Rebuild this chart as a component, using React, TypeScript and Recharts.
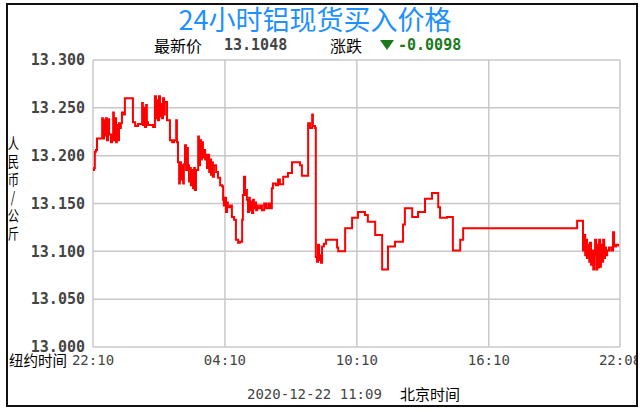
import { LineChart, Line, XAxis, YAxis, CartesianGrid } from "recharts";

// minutes after 22:10 (New York time) and the buy price in CNY/kg
const MINUTES = [
  0, 3, 5, 8, 11, 25, 27, 30, 33, 35, 38, 41, 44, 49, 52, 55, 57, 60, 63, 65,
  68, 71, 74, 76, 79, 82, 87, 109, 115, 123, 134, 136, 139, 142, 145, 147, 150, 164, 169, 172,
  175, 177, 180, 183, 186, 188, 191, 194, 196, 202, 210, 216, 221, 227, 229, 232, 235, 237, 240, 243,
  246, 248, 251, 254, 257, 259, 262, 265, 267, 270, 273, 276, 278, 281, 287, 289, 292, 295, 297, 300,
  303, 306, 308, 311, 314, 317, 319, 322, 325, 327, 330, 336, 341, 347, 352, 355, 357, 360, 363, 366,
  368, 374, 379, 385, 390, 396, 401, 407, 409, 412, 415, 418, 420, 423, 426, 428, 431, 434, 437, 439,
  442, 445, 448, 450, 456, 461, 467, 472, 478, 483, 488, 491, 499, 505, 510, 519, 532, 543, 565, 570,
  587, 592, 598, 600, 606, 608, 611, 614, 617, 619, 622, 625, 630, 636, 666, 669, 688, 707, 723, 742,
  750, 770, 789, 805, 824, 846, 851, 871, 887, 906, 925, 942, 947, 966, 982, 1002, 1010, 1321, 1337, 1340,
  1343, 1345, 1348, 1351, 1354, 1356, 1359, 1362, 1365, 1367, 1370, 1373, 1376, 1378, 1381, 1384, 1386, 1389, 1392, 1395,
  1397, 1400, 1403, 1408, 1414, 1419, 1422, 1427, 1433,
];

const PRICES = [
  13.185, 13.187, 13.204, 13.206, 13.218, 13.239, 13.218, 13.237, 13.221, 13.239, 13.216, 13.238, 13.222, 13.214, 13.222, 13.245, 13.216, 13.239, 13.214, 13.232,
  13.216, 13.234, 13.229, 13.234, 13.245, 13.243, 13.26, 13.235, 13.231, 13.233, 13.255, 13.232, 13.25, 13.23, 13.253, 13.235, 13.232, 13.23, 13.262, 13.239,
  13.258, 13.237, 13.262, 13.241, 13.254, 13.239, 13.26, 13.243, 13.256, 13.237, 13.216, 13.214, 13.216, 13.237, 13.214, 13.193, 13.171, 13.193, 13.175, 13.19,
  13.171, 13.191, 13.211, 13.185, 13.208, 13.19, 13.173, 13.187, 13.169, 13.185, 13.166, 13.187, 13.164, 13.185, 13.22, 13.19, 13.216, 13.196, 13.214, 13.198,
  13.206, 13.196, 13.201, 13.187, 13.201, 13.183, 13.196, 13.18, 13.193, 13.178, 13.19, 13.183, 13.177, 13.169, 13.168, 13.154, 13.148, 13.156, 13.141, 13.151,
  13.146, 13.148, 13.136, 13.133, 13.112, 13.109, 13.11, 13.133, 13.159, 13.178, 13.159, 13.164, 13.154, 13.141, 13.156, 13.143, 13.152, 13.14, 13.154, 13.145,
  13.151, 13.143, 13.148, 13.145, 13.148, 13.143, 13.15, 13.145, 13.15, 13.145, 13.166, 13.171, 13.169, 13.175, 13.17, 13.178, 13.182, 13.193, 13.19, 13.179,
  13.234, 13.229, 13.243, 13.231, 13.229, 13.094, 13.089, 13.107, 13.091, 13.096, 13.088, 13.105, 13.108, 13.112, 13.104, 13.1, 13.124, 13.135, 13.141, 13.138,
  13.131, 13.117, 13.081, 13.105, 13.11, 13.128, 13.145, 13.136, 13.141, 13.155, 13.161, 13.146, 13.135, 13.136, 13.101, 13.112, 13.124, 13.132, 13.101, 13.117,
  13.096, 13.112, 13.093, 13.107, 13.089, 13.109, 13.086, 13.101, 13.081, 13.096, 13.112, 13.081, 13.107, 13.083, 13.112, 13.084, 13.107, 13.089, 13.112, 13.093,
  13.104, 13.096, 13.101, 13.104, 13.101, 13.12, 13.105, 13.107, 13.105,
];

const X_TICKS = [0, 360, 720, 1080, 1438];
const X_TICK_LABELS = ["22:10", "04:10", "10:10", "16:10", "22:08"];
const Y_TICKS = [13.0, 13.05, 13.1, 13.15, 13.2, 13.25, 13.3];
const Y_LABEL = ["人", "民", "币", "/", "公", "斤"];

const TITLE = "24小时铝现货买入价格";
const LATEST = "13.1048";
const CHANGE = "-0.0098";
const UPDATED = "2020-12-22 11:09";

const data = MINUTES.map((t, i) => ({ t, price: PRICES[i] }));

const MONO = "'DejaVu Sans Mono', monospace";
const CJK = "'Noto Sans CJK SC', sans-serif";
const GREEN = "#1a7a1a";

const abs = (left: number, top: number): React.CSSProperties => ({
  position: "absolute",
  left,
  top,
  whiteSpace: "nowrap",
});

export default function App() {
  return (
    <div
      style={{
        position: "fixed",
        left: 0,
        top: 0,
        width: 644,
        height: 412,
        background: "#fff",
        overflow: "hidden",
      }}
    >
      <LineChart
        width={644}
        height={412}
        data={data}
        margin={{ top: 60, right: 24, bottom: 35, left: 0 }}
        style={{ position: "absolute", left: 0, top: 0 }}
      >
        <CartesianGrid stroke="#c8c8c8" strokeWidth={1.5} />
        <XAxis
          dataKey="t"
          type="number"
          domain={[0, 1438]}
          ticks={X_TICKS}
          interval={0}
          tickFormatter={(v) => X_TICK_LABELS[X_TICKS.indexOf(v)]}
          axisLine={false}
          tickLine={false}
          height={30}
          tick={{ fill: "#444", fontSize: 14, fontFamily: MONO }}
        />
        <YAxis
          type="number"
          domain={[13.0, 13.3]}
          ticks={Y_TICKS}
          interval={0}
          tickFormatter={(v) => v.toFixed(3)}
          axisLine={false}
          tickLine={false}
          width={93}
          tick={{ fill: "#444", fontSize: 15, fontWeight: "bold", fontFamily: MONO }}
        />
        <Line
          type="stepAfter"
          dataKey="price"
          stroke="#ff0000"
          strokeWidth={2}
          dot={false}
          isAnimationActive={false}
        />
      </LineChart>

      {/* title and header */}
      <div
        style={{
          ...abs(0, 5),
          width: 630,
          textAlign: "center",
          fontFamily: CJK,
          fontSize: 27,
          lineHeight: "28px",
          color: "#1e90ff",
        }}
      >
        {TITLE}
      </div>
      <div style={{ ...abs(154, 36), fontFamily: CJK, fontSize: 16, lineHeight: "18px", color: "#000" }}>
        最新价
      </div>
      <div
        style={{ ...abs(224, 36), fontFamily: MONO, fontWeight: "bold", fontSize: 15, lineHeight: "18px", color: "#444" }}
      >
        {LATEST}
      </div>
      <div style={{ ...abs(330, 36), fontFamily: CJK, fontSize: 16, lineHeight: "18px", color: "#000" }}>
        涨跌
      </div>
      <svg style={{ position: "absolute", left: 380, top: 40 }} width={14} height={10}>
        <polygon points="0,0 14,0 7,10" fill={GREEN} />
      </svg>
      <div
        style={{
          ...abs(398, 36),
          fontFamily: MONO,
          fontWeight: "bold",
          fontSize: 15,
          lineHeight: "18px",
          color: GREEN,
        }}
      >
        {CHANGE}
      </div>

      {/* y-axis unit, stacked */}
      <div style={{ ...abs(6, 134), width: 14, fontFamily: CJK, fontSize: 15, color: "#000" }}>
        {Y_LABEL.map((c, i) => (
          <div key={i} style={{ height: 18, lineHeight: "18px", textAlign: "center", transform: "scaleX(0.75)" }}>
            {c}
          </div>
        ))}
      </div>

      {/* bottom texts */}
      <div style={{ ...abs(9, 351), fontFamily: CJK, fontSize: 14.5, lineHeight: "18px", color: "#000" }}>
        纽约时间
      </div>
      <div style={{ ...abs(247, 385), fontFamily: MONO, fontSize: 14, lineHeight: "18px", color: "#444" }}>
        {UPDATED}
      </div>
      <div style={{ ...abs(400, 385), fontFamily: CJK, fontSize: 15, lineHeight: "18px", color: "#000" }}>
        北京时间
      </div>

      {/* outer frame */}
      <div style={{ position: "absolute", left: 638, top: 0, width: 6, height: 412, background: "#fff" }} />
      <div
        style={{
          position: "absolute",
          left: 6,
          top: 3,
          width: 632,
          height: 404,
          boxSizing: "border-box",
          border: "2px solid #111",
          pointerEvents: "none",
        }}
      />
    </div>
  );
}
